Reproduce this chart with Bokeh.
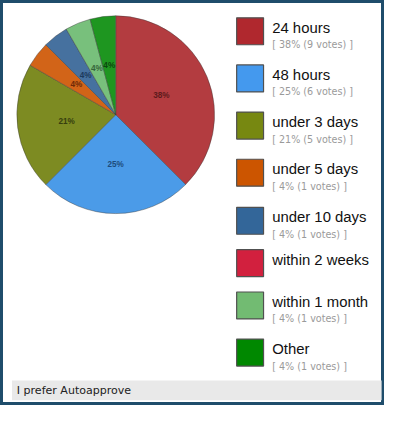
import math
from bokeh.plotting import figure
from bokeh.models import ColumnDataSource, Range1d
from bokeh.core.properties import value
from bokeh.embed import file_html
from bokeh.resources import INLINE

# ---- data ----
options = ["24 hours", "48 hours", "under 3 days", "under 5 days",
           "under 10 days", "within 2 weeks", "within 1 month", "Other"]
votes = [9, 6, 5, 1, 1, 0, 1, 1]
footer_text = "I prefer Autoapprove"

# ---- styles ----
legend_colors = ["#b0282e", "#4499ee", "#778811", "#cc5500",
                 "#336699", "#d2203e", "#72bb72", "#008800"]
pie_colors = ["#b33c40", "#4b9be8", "#7d8b22", "#d26418",
              "#46719f", "#d2203e", "#78c07c", "#1e9620"]
label_colors = ["#5e1a1c", "#1d4c7c", "#363e0e", "#6e2a08",
                "#1c3a5c", "#6a1020", "#35653a", "#0a480d"]
border_color = "#1f4d6b"

# ---- layout (reference pixel coords, y measured down from the top) ----
W, H = 400, 421          # reference canvas
FW, FH = 384, 405        # figure size that fits the window
S = FW / W               # scale for font sizes
def Y(py):
    return H - py
def fs(px):
    return f"{px * S:.2f}px"

cx, cy, R = 120, Y(118.7), 103
row_tops = [18, 67, 116, 165, 215, 259, 303, 352]
sw_left, sw_size = 246, 28
text_x = 283

total = sum(votes)
pct = [int(100 * v / total + 0.5) for v in votes]

p = figure(width=FW, height=FH, output_backend="svg",
           toolbar_location=None, x_range=Range1d(0, W),
           y_range=Range1d(0, H), min_border=0)
p.axis.visible = False
p.grid.visible = False
p.background_fill_color = "white"
p.border_fill_color = "white"
p.outline_line_color = border_color
p.outline_line_width = 5

# ---- pie ----
starts, ends, cols, lx, ly, ltxt, lcol = [], [], [], [], [], [], []
cum = 0
for i, v in enumerate(votes):
    a0 = math.pi / 2 - 2 * math.pi * cum / total
    cum += v
    a1 = math.pi / 2 - 2 * math.pi * cum / total
    if v == 0:
        continue
    starts.append(a0)
    ends.append(a1)
    cols.append(pie_colors[i])
    mid = (a0 + a1) / 2
    lx.append(cx + 0.5 * R * math.cos(mid))
    ly.append(cy + 0.5 * R * math.sin(mid))
    ltxt.append(f"{pct[i]}%")
    lcol.append(label_colors[i])

pie_src = ColumnDataSource(dict(start=starts, end=ends, color=cols))
p.wedge(x=cx, y=cy, radius=R, radius_units="data", start_angle="start",
        end_angle="end", direction="clock", fill_color="color",
        line_color="#3a3a3a", line_width=0.6, line_alpha=0.7, source=pie_src)

lab_src = ColumnDataSource(dict(x=lx, y=ly, t=ltxt, c=lcol))
p.text(x="x", y="y", text="t", text_color="c", source=lab_src,
       text_font=value("Liberation Sans"), text_font_size=fs(8.5),
       text_font_style="bold", text_align="center", text_baseline="middle")

# ---- legend ----
qsrc = ColumnDataSource(dict(
    left=[sw_left] * len(options), right=[sw_left + sw_size] * len(options),
    top=[Y(t) for t in row_tops], bottom=[Y(t + sw_size) for t in row_tops],
    color=legend_colors))
p.quad(left="left", right="right", top="top", bottom="bottom",
       fill_color="color", line_color="#505050", line_width=1.2, source=qsrc)

p.text(x=[text_x] * len(options), y=[Y(t + 10.5) for t in row_tops],
       text=options, text_font=value("Liberation Sans"),
       text_font_size=fs(15.5), text_color="#111111",
       text_baseline="alphabetic", text_align="left")

sub_y, sub_t = [], []
for i, v in enumerate(votes):
    if v == 0:
        continue
    sub_y.append(Y(row_tops[i] + 28))
    sub_t.append(f"[ {pct[i]}% ({v} votes) ]")
p.text(x=[text_x] * len(sub_t), y=sub_y, text=sub_t,
       text_font=value("DejaVu Sans"), text_font_size=fs(10),
       text_color="#9a9a9a", text_baseline="alphabetic", text_align="left")

# ---- footer bar ----
p.quad(left=12, right=397, top=Y(395), bottom=Y(415.5),
       fill_color="#e9e9e9", line_color=None)
p.text(x=[17], y=[Y(405.5)], text=[footer_text],
       text_font=value("DejaVu Sans"), text_font_size=fs(11.5),
       text_color="#222222", text_baseline="middle", text_align="left")

open("out.html", "w").write(file_html(p, INLINE))
